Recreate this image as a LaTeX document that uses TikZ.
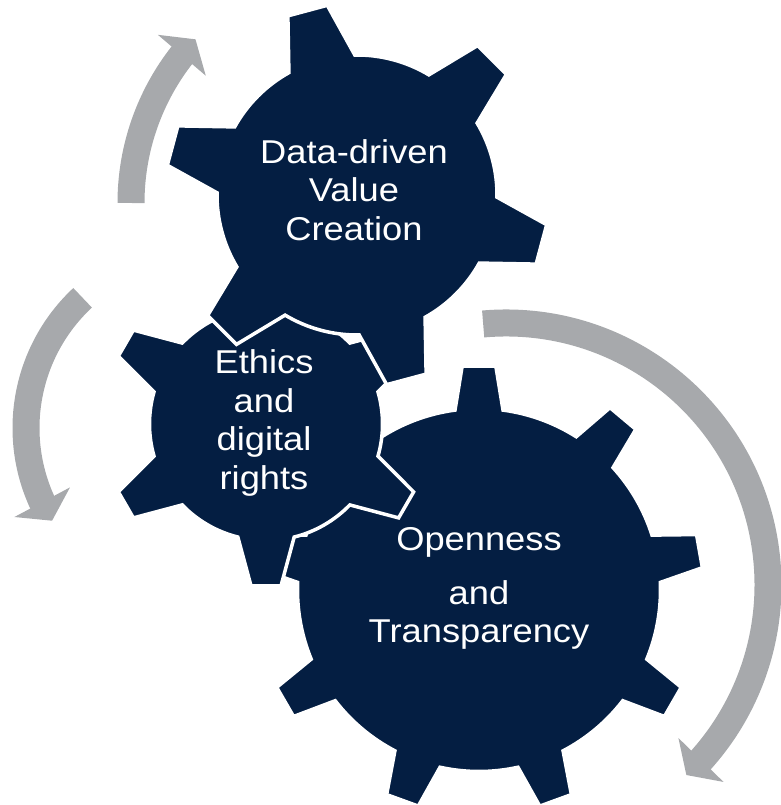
\documentclass[tikz,border=0pt]{standalone}
\usepackage{fontspec}
\newfontfamily\gearfont{Liberation Sans}[FakeStretch=1.1]
\usetikzlibrary{arrows.meta, bending}

\definecolor{gearblue}{RGB}{4,30,66}
\definecolor{arrowgray}{RGB}{167,169,172}

\tikzset{
  gear/.style={fill=gearblue, draw=white, line width=3.5pt},
  gearlabel/.style={text=white, align=center, inner sep=0pt,
    font=\gearfont\fontsize{33}{38.5}\selectfont},
  cyclearrow/.style={draw=arrowgray, line width=27pt,
    -{Triangle[width=62pt,length=21pt]}}
}

% #1 centre, #2 teeth, #3 first tooth angle, #4 body radius,
% #5 tip radius, #6 half angle at base, #7 half angle at tip
\newcommand{\drawgear}[7]{%
  \draw[gear, shift={(#1)}] ({#3-#6}:#4)
    \foreach \tooth in {1,...,#2}{
      -- ({#3+(\tooth-1)*360/#2-#6}:#4) -- ({#3+(\tooth-1)*360/#2-#7}:#5)
      -- ({#3+(\tooth-1)*360/#2+#7}:#5) -- ({#3+(\tooth-1)*360/#2+#6}:#4)
      arc[start angle={#3+(\tooth-1)*360/#2+#6}, end angle={#3+\tooth*360/#2-#6}, radius=#4]
    } -- cycle;}

\begin{document}
\begin{tikzpicture}[x=1pt, y=1pt]
  \useasboundingbox (0,0) rectangle (780,805);

  % gear centres
  \coordinate (c-open) at (479,215);
  \coordinate (c-ethics) at (266,381);
  \coordinate (c-value) at (357,610);

  % gears, back to front
  \drawgear{c-open}{9}{90}{181.5}{224.5}{7.6}{4.3}
  \drawgear{c-ethics}{6}{30}{116.5}{162.5}{14}{5.3}
  \drawgear{c-value}{6}{105}{140}{192}{14.1}{6.1}

  \node[gearlabel] (value) at (354,615) {Data-driven\\Value\\Creation};
  \node[gearlabel] (ethics) at (264,382) {Ethics\\and\\digital\\rights};
  \node[gearlabel] (open) at (479,216.5) {Openness\\[15.5pt]and\\Transparency};

  % turning arrows
  \coordinate (a-top) at (371,602);
  \coordinate (a-left) at (204,377);
  \coordinate (a-right) at (506,220);
  \draw[cyclearrow] (a-top) ++(180:240) arc[start angle=180, end angle=137, radius=240];
  \draw[cyclearrow] (a-left) ++(133:178) arc[start angle=133, end angle=211.4, radius=178];
  \draw[cyclearrow] (a-right) ++(95:262) arc[start angle=95, end angle=-46.5, radius=262];
\end{tikzpicture}
\end{document}
